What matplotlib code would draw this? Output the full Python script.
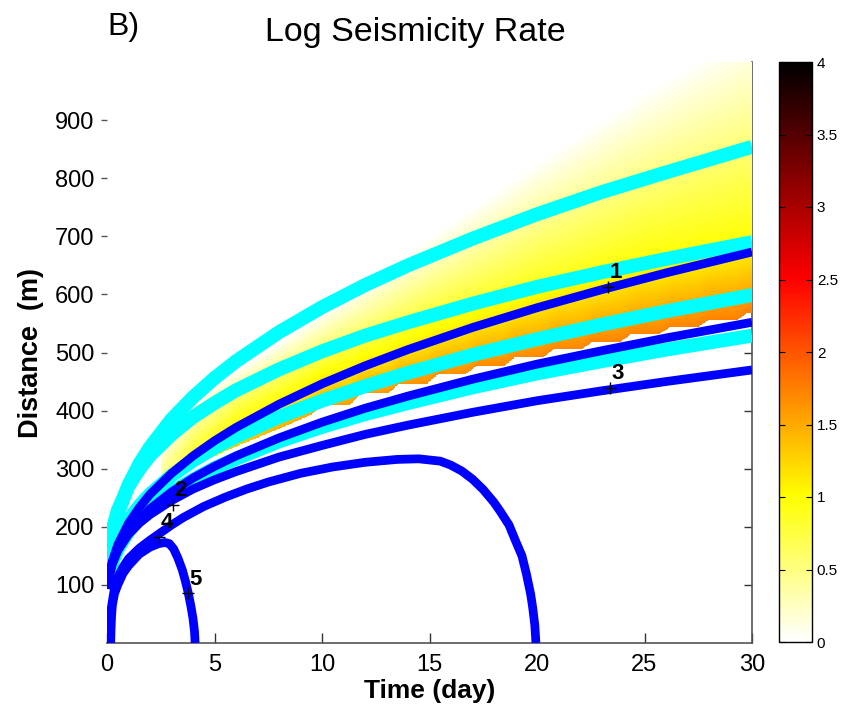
import numpy as np
import matplotlib
matplotlib.use("Agg")
import matplotlib.pyplot as plt
from matplotlib.colors import LinearSegmentedColormap

# ---------------- data ----------------
t_pts = [0.03, 0.1, 0.25, 0.5, 1, 1.5, 2, 3, 4, 5, 6, 8, 10, 12, 14, 17, 20, 23, 26, 30]

cyan_1 = [114, 147, 184, 222, 272, 308, 337, 385, 423, 456, 485, 535, 578, 616, 650, 696, 738, 776, 810, 854]
cyan_2 = [128, 160, 194, 228, 270, 299, 323, 359, 389, 413, 435, 471, 502, 529, 552, 584, 613, 638, 661, 690]
cyan_3 = [101, 124, 150, 177, 211, 236, 256, 288, 314, 336, 355, 389, 417, 442, 465, 496, 523, 548, 571, 599]
cyan_4 = [96, 116, 139, 162, 192, 214, 231, 259, 281, 301, 317, 347, 372, 394, 413, 440, 464, 485, 505, 529]

blue_1 = [93, 115, 141, 169, 206, 233, 256, 292, 322, 348, 371, 411, 446, 477, 505, 543, 577, 608, 637, 673]
blue_2 = [93, 113, 136, 159, 190, 212, 231, 260, 284, 304, 322, 353, 380, 404, 425, 454, 480, 503, 525, 552]
blue_3 = [98, 117, 139, 160, 187, 206, 221, 245, 265, 281, 295, 320, 340, 359, 375, 397, 417, 434, 450, 470]

blue_4_t = [0.15, 0.2, 0.35, 0.5, 0.75, 1, 1.5, 2, 2.5, 3, 3.55, 4.5, 5.5, 6.5, 7.5, 9, 10.5,
            12, 13.5, 14.5, 15.5, 16, 16.5, 17, 17.5, 18, 18.3, 18.7, 19, 19.3, 19.5, 19.7, 19.8, 19.9, 19.95]
blue_4_r = [0, 60, 95, 113, 131, 145, 163, 177, 190, 203, 216, 235, 251, 265, 277, 292, 303,
            311, 316, 317, 313, 306, 296, 282, 264, 242, 226, 203, 176, 150, 120, 85, 61, 30, 0]

blue_5_t = [0.17, 0.2, 0.25, 0.35, 0.5, 0.75, 1, 1.5, 2, 2.4, 2.7, 2.9, 3.1, 3.3, 3.5, 3.65, 3.78, 3.9, 4.0, 4.07, 4.1]
blue_5_r = [0, 40, 65, 85, 100, 120, 133, 153, 165, 171, 173, 171, 162, 146, 126, 106, 86, 64, 42, 20, 0]

# labelled points
label_text = ["1", "2", "3", "4", "5"]
label_t = [23.3, 3.07, 23.4, 2.4, 3.77]
label_r = [613, 238, 439, 183, 86]

# log seismicity-rate field: lower (back-front) edge, with its stair steps
edge_t = [2.5, 4, 6, 8.2, 9.5, 10.0, 11.3, 11.8, 13.1, 13.6, 14.9, 15.4, 16.7, 17.2,
          18.5, 19.0, 20.3, 20.8, 22.1, 22.6, 23.9, 24.4, 25.7, 26.2, 27.5, 28.0,
          29.3, 29.8, 30]
edge_r = [280, 305, 338, 372, 393, 410, 410, 430, 430, 447, 447, 463, 463, 478,
          478, 492, 492, 506, 506, 519, 519, 532, 532, 544, 544, 556, 556, 568, 568]

# field profile anchors per time: value at edge, a middle point, and fade-out distance
prof_t = [2.5, 4, 6, 10, 15, 20, 25, 30]
prof_low_v = [0.5, 1.0, 1.35, 1.55, 1.65, 1.7, 1.72, 1.75]
prof_mid_r = [335, 389, 435, 502, 565, 613, 653, 690]
prof_mid_v = [0.1, 0.3, 0.45, 0.62, 0.8, 0.92, 1.0, 1.0]
prof_zero_r = [345, 420, 470, 570, 700, 830, 950, 1060]

cbar_ticks = [0, 0.5, 1, 1.5, 2, 2.5, 3, 3.5, 4]
cbar_ticklabels = ["0", "0.5", "1", "1.5", "2", "2.5", "3", "3.5", "4"]
x_ticks = [0, 5, 10, 15, 20, 25, 30]
y_ticks = [100, 200, 300, 400, 500, 600, 700, 800, 900]
right_ticks = [100, 200, 300, 400, 500]

# ---------------- style ----------------
plt.rcParams['font.family'] = ['Liberation Sans', 'DejaVu Sans']
FW, FH = 856, 708
fig = plt.figure(figsize=(FW / 100, FH / 100), dpi=100)
ax = fig.add_axes([107 / FW, (FH - 643) / FH, 645 / FW, 581 / FH])

# MATLAB-like flipped "hot" colormap
hot_r = LinearSegmentedColormap.from_list(
    "hot_r_matlab", [(0.0, (1, 1, 1)), (0.25, (1, 1, 0)), (0.625, (1, 0, 0)), (1.0, (0, 0, 0))])
hot_r.set_bad((1, 1, 1, 0))

# build field on a fine grid from the read anchors
tg = np.linspace(0, 30, 901)
rg = np.linspace(0, 1000, 1001)
field = np.full((rg.size, tg.size), np.nan)
for j, t in enumerate(tg):
    if t < edge_t[0]:
        continue
    r_low = np.interp(t, edge_t, edge_r)
    v_low = np.interp(t, prof_t, prof_low_v)
    r_mid = np.interp(t, prof_t, prof_mid_r)
    v_mid = np.interp(t, prof_t, prof_mid_v)
    r_zero = np.interp(t, prof_t, prof_zero_r)
    r_mid = max(r_mid, r_low + 1)
    r_zero = max(r_zero, r_mid + 1)
    col = np.interp(rg, [r_low, r_mid, r_zero], [v_low, v_mid, 0.0])
    col[rg < r_low] = np.nan
    field[:, j] = col

im = ax.imshow(np.ma.masked_invalid(field), origin="lower", extent=[0, 30, 0, 1000],
               aspect="auto", cmap=hot_r, vmin=0, vmax=4, interpolation="nearest", zorder=3)

cyan_lw = 10
blue_lw = 6.3
for c in [cyan_1, cyan_2, cyan_3, cyan_4]:
    ax.plot(t_pts, c, color="#00FFFF", lw=cyan_lw, solid_capstyle="butt",
            solid_joinstyle="round", zorder=4)
for b in [blue_1, blue_2, blue_3]:
    ax.plot(t_pts, b, color="#0000FF", lw=blue_lw, solid_capstyle="butt",
            solid_joinstyle="round", zorder=5)
ax.plot(blue_4_t, blue_4_r, color="#0000FF", lw=blue_lw, solid_capstyle="butt",
        solid_joinstyle="round", zorder=5)
ax.plot(blue_5_t, blue_5_r, color="#0000FF", lw=blue_lw, solid_capstyle="butt",
        solid_joinstyle="round", zorder=5)

for s, t, r in zip(label_text, label_t, label_r):
    ax.plot(t, r, marker="+", color="black", ms=9, mew=1.0, zorder=6)
    ax.text(t + 0.08, r + 6, s, fontsize=16, fontweight="bold", ha="left", va="bottom", zorder=7)

ax.set_xlim(0, 30)
ax.set_ylim(0, 1000)
ax.set_xticks(x_ticks)
ax.set_xticklabels([str(v) for v in x_ticks])
ax.set_yticks(y_ticks)
ax.set_yticklabels([str(v) for v in y_ticks])
ax.tick_params(axis="x", direction="in", length=7, width=1, colors="#333333",
               labelcolor="black", labelsize=17, pad=8, top=False)
ax.tick_params(axis="y", direction="out", length=4, width=1, colors="#555555",
               labelcolor="black", labelsize=17, pad=5, right=False)
for side in ["left", "top"]:
    ax.spines[side].set_visible(False)
for side in ["bottom", "right"]:
    ax.spines[side].set_color("#555555")
    ax.spines[side].set_linewidth(1.2)

sec = ax.secondary_yaxis("right")
sec.set_yticks(right_ticks)
sec.set_yticklabels([])
sec.tick_params(direction="in", length=6, width=1, colors="#333333")
sec.spines["right"].set_visible(False)

ax.set_xlabel("Time (day)", fontsize=19, fontweight="bold", labelpad=2)
ax.set_ylabel("Distance  (m)", fontsize=19.5, fontweight="bold", labelpad=8)

fig.text(415 / FW, 1 - 32 / FH, "Log Seismicity Rate", fontsize=24.5, ha="center", va="center")
fig.text(107 / FW, 1 - 27 / FH, "B)", fontsize=23, ha="left", va="center")

# colorbar
cax = fig.add_axes([779 / FW, (FH - 642) / FH, 33 / FW, 580 / FH])
cb = fig.colorbar(im, cax=cax, ticks=cbar_ticks)
cb.ax.set_yticklabels(cbar_ticklabels)
cb.ax.tick_params(direction="in", length=4, left=True, right=True, labelsize=11)
cb.outline.set_linewidth(1.0)

fig.savefig("out.png", dpi=100)
